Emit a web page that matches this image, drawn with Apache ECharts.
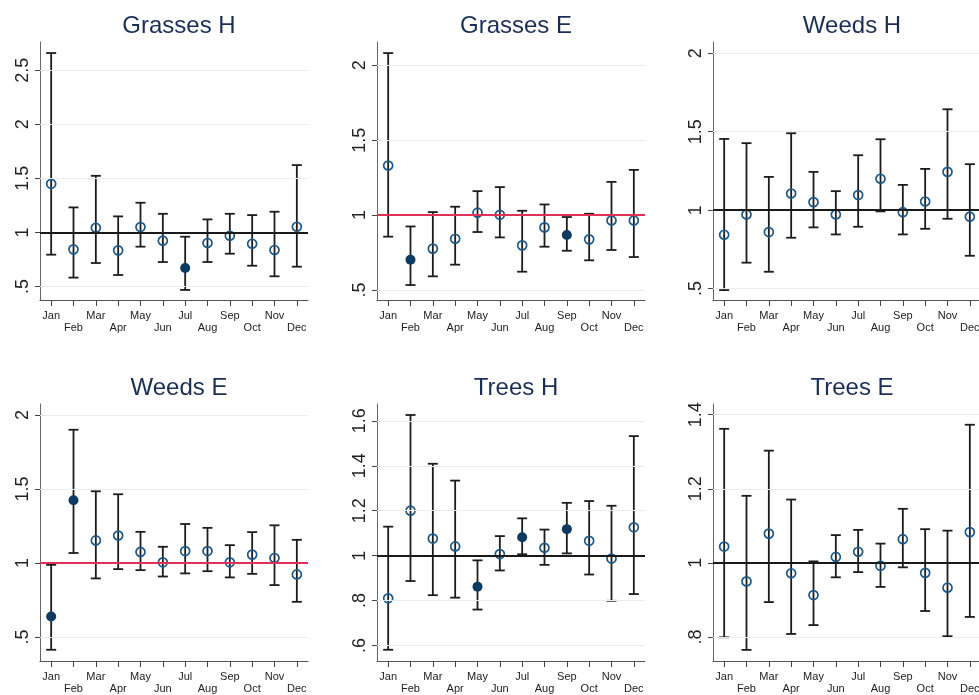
<!DOCTYPE html>
<html>
<head>
<meta charset="utf-8">
<script src="https://cdn.jsdelivr.net/npm/echarts@6/dist/echarts.min.js"></script>
<style>
html,body{margin:0;padding:0;background:#fff;overflow:hidden;width:979px;height:695px;}
#chart{width:1000px;height:695px;}
</style>
</head>
<body>
<div id="chart"></div>
<script>
const months = ['Jan','Feb','Mar','Apr','May','Jun','Jul','Aug','Sep','Oct','Nov','Dec'];

// Grasses H
const ghEst = [1.449,0.843,1.043,0.834,1.049,0.923,0.671,0.902,0.969,0.895,0.837,1.052];
const ghLo  = [0.794,0.582,0.717,0.606,0.868,0.726,0.468,0.726,0.803,0.692,0.594,0.683];
const ghHi  = [2.658,1.231,1.523,1.148,1.274,1.172,0.960,1.120,1.172,1.160,1.191,1.622];
const ghSig = [0,0,0,0,0,0,1,0,0,0,0,0];
const ghTicks = [0.5,1,1.5,2,2.5];
const ghTickLabels = ['.5','1','1.5','2','2.5'];

// Grasses E
const geEst = [1.331,0.702,0.776,0.842,1.016,1.002,0.798,0.918,0.867,0.838,0.964,0.964];
const geLo  = [0.856,0.533,0.591,0.669,0.887,0.851,0.622,0.789,0.762,0.698,0.767,0.720];
const geHi  = [2.082,0.924,1.020,1.056,1.160,1.187,1.029,1.071,0.987,1.009,1.222,1.302];
const geSig = [0,1,0,0,0,0,0,0,1,0,0,0];
const geTicks = [0.5,1,1.5,2];
const geTickLabels = ['.5','1','1.5','2'];

// Weeds H
const whEst = [0.843,0.972,0.860,1.106,1.051,0.972,1.096,1.200,0.987,1.055,1.244,0.958];
const whLo  = [0.490,0.665,0.607,0.824,0.890,0.845,0.894,0.992,0.845,0.881,0.945,0.709];
const whHi  = [1.454,1.427,1.212,1.490,1.244,1.121,1.350,1.452,1.161,1.263,1.643,1.293];
const whSig = [0,0,0,0,0,0,0,0,0,0,0,0];
const whTicks = [0.5,1,1.5,2];
const whTickLabels = ['.5','1','1.5','2'];

// Weeds E
const weEst = [0.638,1.424,1.152,1.185,1.074,1.004,1.080,1.080,1.004,1.056,1.033,0.922];
const weLo  = [0.413,1.067,0.895,0.958,0.951,0.908,0.929,0.944,0.902,0.926,0.850,0.737];
const weHi  = [0.987,1.900,1.484,1.464,1.210,1.109,1.263,1.237,1.120,1.208,1.254,1.156];
const weSig = [1,1,0,0,0,0,0,0,0,0,0,0];
const weTicks = [0.5,1,1.5,2];
const weTickLabels = ['.5','1','1.5','2'];

// Trees H
const thEst = [0.810,1.200,1.076,1.041,0.862,1.007,1.082,1.035,1.118,1.066,0.987,1.126];
const thLo  = [0.581,0.887,0.824,0.813,0.760,0.934,1.006,0.959,1.010,0.916,0.799,0.829];
const thHi  = [1.129,1.626,1.409,1.334,0.979,1.087,1.166,1.116,1.235,1.243,1.222,1.532];
const thSig = [0,0,0,0,1,0,1,0,1,0,0,0];
const thTicks = [0.6,0.8,1,1.2,1.4,1.6];
const thTickLabels = ['.6','.8','1','1.2','1.4','1.6'];

// Trees E
const teEst = [1.044,0.950,1.079,0.972,0.913,1.016,1.030,0.992,1.064,0.973,0.933,1.083];
const teLo  = [0.799,0.765,0.894,0.808,0.832,0.961,0.975,0.935,0.988,0.870,0.802,0.854];
const teHi  = [1.362,1.181,1.303,1.171,1.004,1.075,1.089,1.052,1.146,1.091,1.087,1.373];
const teSig = [0,0,0,0,0,0,0,0,0,0,0,0];
const teTicks = [0.8,1,1.2,1.4];
const teTickLabels = ['.8','1','1.2','1.4'];

const titles = ['Grasses H','Grasses E','Weeds H','Weeds E','Trees H','Trees E'];
const refValue = 1;

const panels = [
  {est:ghEst, lo:ghLo, hi:ghHi, sig:ghSig, ticks:ghTicks, labels:ghTickLabels, min:0.375, max:2.76, red:false},
  {est:geEst, lo:geLo, hi:geHi, sig:geSig, ticks:geTicks, labels:geTickLabels, min:0.433, max:2.156, red:true},
  {est:whEst, lo:whLo, hi:whHi, sig:whSig, ticks:whTicks, labels:whTickLabels, min:0.427, max:2.072, red:false},
  {est:weEst, lo:weLo, hi:weHi, sig:weSig, ticks:weTicks, labels:weTickLabels, min:0.337, max:2.074, red:true},
  {est:thEst, lo:thLo, hi:thHi, sig:thSig, ticks:thTicks, labels:thTickLabels, min:0.531, max:1.675, red:false},
  {est:teEst, lo:teLo, hi:teHi, sig:teSig, ticks:teTicks, labels:teTickLabels, min:0.735, max:1.429, red:false}
];

// layout
const lefts = [40, 377, 713];
const tops = [42, 404];
const gw = 268, gh = 258;
const FONT = '"Liberation Sans", Arial, sans-serif';

const grids = [], xAxes = [], yAxes = [], series = [], titleOpts = [];
panels.forEach((p, k) => {
  const col = k % 3, row = Math.floor(k / 3);
  const left = lefts[col], top = tops[row];
  grids.push({left: left, top: top, width: gw, height: gh, containLabel: false});
  titleOpts.push({
    text: titles[k], left: left + gw / 2, top: top - 33, textAlign: 'center',
    textStyle: {fontFamily: FONT, fontSize: 24, fontWeight: 'normal', color: '#1a2e56'}
  });
  xAxes.push({
    type: 'category', gridIndex: k, data: months, boundaryGap: true,
    axisLine: {show: true, lineStyle: {color: '#555', width: 1}},
    axisTick: {show: true, alignWithLabel: true, length: 6, lineStyle: {color: '#444', width: 1}},
    axisLabel: {
      interval: 0, margin: 10, fontFamily: FONT, fontSize: 11, color: '#222', lineHeight: 12,
      formatter: (v, i) => (i % 2 === 1 ? '\n' + v : v)
    },
    splitLine: {show: false}
  });
  yAxes.push({
    type: 'value', gridIndex: k, min: p.min, max: p.max,
    axisLine: {show: true, lineStyle: {color: '#666', width: 1}},
    axisTick: {show: true, length: 5, customValues: p.ticks, lineStyle: {color: '#444', width: 1}},
    axisLabel: {
      show: true, rotate: 90, margin: 8, customValues: p.ticks,
      fontFamily: FONT, fontSize: 18, color: '#222',
      formatter: (v) => { const i = p.ticks.findIndex(t => Math.abs(t - v) < 1e-9); return i >= 0 ? p.labels[i] : ''; }
    },
    splitLine: {show: false}
  });
  // gridlines
  series.push({
    type: 'line', xAxisIndex: k, yAxisIndex: k, data: [], z: 1, silent: true,
    markLine: {
      silent: true, symbol: 'none', animation: false, label: {show: false},
      lineStyle: {color: '#e6eef1', width: 1.2, type: 'solid'},
      data: p.ticks.map(t => ({yAxis: t}))
    }
  });
  // reference line
  series.push({
    type: 'line', xAxisIndex: k, yAxisIndex: k, data: [], z: 2, silent: true,
    markLine: {
      silent: true, symbol: 'none', animation: false, label: {show: false},
      lineStyle: {color: p.red ? '#e23159' : '#1a1a1a', width: 1.8, type: 'solid'},
      data: [{yAxis: refValue}]
    }
  });
  // error bars
  series.push({
    type: 'custom', xAxisIndex: k, yAxisIndex: k, z: 3, silent: true,
    data: months.map((m, i) => [i, p.lo[i], p.hi[i]]),
    renderItem: (params, api) => {
      const x = api.value(0);
      const a = api.coord([x, api.value(1)]);
      const b = api.coord([x, api.value(2)]);
      const w = 5;
      const st = {stroke: '#1c1c1c', lineWidth: 1.8};
      return {type: 'group', children: [
        {type: 'line', shape: {x1: a[0], y1: a[1], x2: b[0], y2: b[1]}, style: st},
        {type: 'line', shape: {x1: a[0] - w, y1: a[1], x2: a[0] + w, y2: a[1]}, style: st},
        {type: 'line', shape: {x1: b[0] - w, y1: b[1], x2: b[0] + w, y2: b[1]}, style: st}
      ]};
    }
  });
  // hollow markers
  series.push({
    type: 'scatter', xAxisIndex: k, yAxisIndex: k, z: 4, symbol: 'circle', symbolSize: 9,
    itemStyle: {color: 'rgba(0,0,0,0)', borderColor: '#1b5788', borderWidth: 1.7, opacity: 1},
    data: months.map((m, i) => p.sig[i] ? null : [i, p.est[i]]).filter(d => d)
  });
  // filled markers
  series.push({
    type: 'scatter', xAxisIndex: k, yAxisIndex: k, z: 5, symbol: 'circle', symbolSize: 10,
    itemStyle: {color: '#0c3a60', borderColor: '#0c3a60', borderWidth: 0, opacity: 1},
    data: months.map((m, i) => p.sig[i] ? [i, p.est[i]] : null).filter(d => d)
  });
});

const chart = echarts.init(document.getElementById('chart'), null, {renderer: 'canvas'});
chart.setOption({
  animation: false,
  backgroundColor: '#ffffff',
  title: titleOpts,
  grid: grids,
  xAxis: xAxes,
  yAxis: yAxes,
  series: series
});
</script>
</body>
</html>
